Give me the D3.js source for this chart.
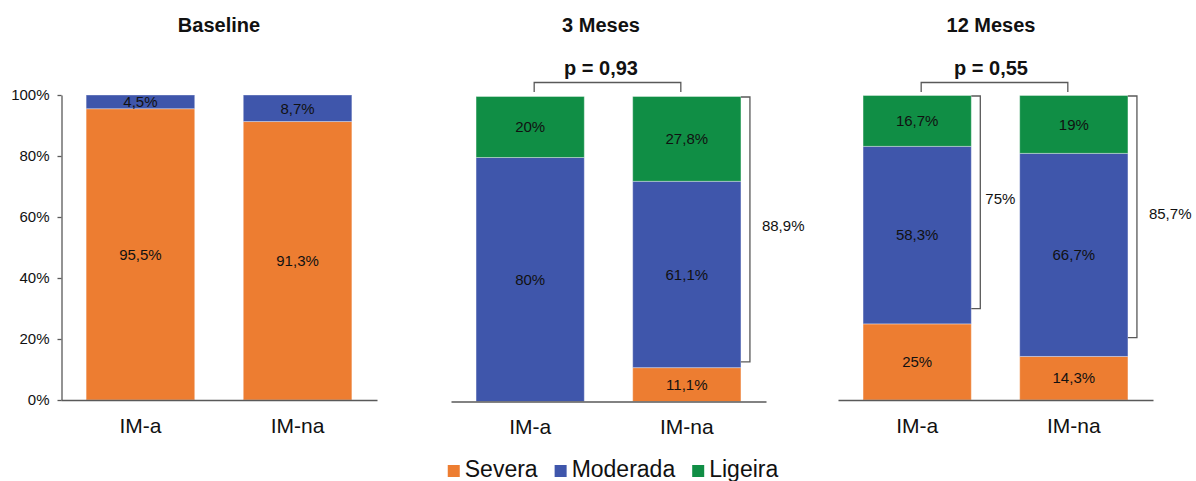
<!DOCTYPE html>
<html>
<head>
<meta charset="utf-8">
<script src="https://cdn.jsdelivr.net/npm/d3@7"></script>
<style>
  html, body { margin: 0; padding: 0; background: #fff; }
  svg { display: block; font-family: "Liberation Sans", Arial, sans-serif; }
</style>
</head>
<body>
<svg id="chart" width="1196" height="481"></svg>
<script>
// Severity distribution per group, at baseline, 3 and 12 months (percent)
const periods = ["Baseline", "3 Meses", "12 Meses"];
const groups = ["IM-a", "IM-na"];
const seriesNames = ["Severa", "Moderada", "Ligeira"];
const severa   = [[95.5, 91.3], [0, 11.1], [25, 14.3]];
const moderada = [[4.5, 8.7],  [80, 61.1], [58.3, 66.7]];
const ligeira  = [[0, 0],      [20, 27.8], [16.7, 19]];
const pValues = [null, "0,93", "0,55"];
// Side brackets grouping Moderada + Ligeira, and the value where each bracket ends
const showBracket = [[false, false], [false, true], [true, true]];
const bracketLow  = [[null, null], [null, 13], [30, 20.5]];
const yTicks = [0, 20, 40, 60, 80, 100];

const colors = { Severa: "#ED7D31", Moderada: "#3F56AB", Ligeira: "#108E45" };
const lineColor = "#595959";

const svg = d3.select("#chart");

// Panel frames
const panelX = [[61, 377], [451, 766], [838, 1153]];
const panelY = [[400, 95], [401.5, 96.5], [400, 95.5]];
const titleX = [219, 601, 991];

const fmt = v => (Math.round(v * 10) / 10).toString().replace(".", ",") + "%";

periods.forEach((period, pi) => {
  const g = svg.append("g");
  const x = d3.scaleBand().domain(groups).range(panelX[pi])
    .paddingInner(0.309).paddingOuter(0.16);
  const y = d3.scaleLinear().domain([0, 100]).range(panelY[pi]);

  const rows = groups.map((grp, gi) => ({
    group: grp, gi,
    Severa: severa[pi][gi], Moderada: moderada[pi][gi], Ligeira: ligeira[pi][gi]
  }));
  const stacked = d3.stack().keys(seriesNames)(rows);

  // bars
  stacked.forEach(layer => {
    g.append("g").attr("fill", colors[layer.key])
      .selectAll("rect").data(layer).join("rect")
      .filter(d => d[1] - d[0] > 0)
      .attr("x", d => x(d.data.group))
      .attr("width", x.bandwidth())
      .attr("y", d => y(d[1]))
      .attr("height", d => y(d[0]) - y(d[1]))
      .attr("stroke", "#fff").attr("stroke-opacity", 0.35).attr("stroke-width", 1);
  });

  // segment value labels
  stacked.forEach(layer => {
    g.append("g").selectAll("text").data(layer.filter(d => d[1] - d[0] > 0)).join("text")
      .attr("x", d => x(d.data.group) + x.bandwidth() / 2)
      .attr("y", d => (y(d[0]) + y(d[1])) / 2)
      .attr("dy", "0.35em")
      .attr("text-anchor", "middle")
      .attr("font-size", 15)
      .attr("fill", "#111")
      .text(d => fmt(d[1] - d[0]));
  });

  // y axis (first panel only)
  if (pi === 0) {
    const ya = g.append("g").attr("transform", `translate(${panelX[pi][0] + 0.5},0)`)
      .call(d3.axisLeft(y).tickValues(yTicks).tickSize(4).tickSizeOuter(0).tickPadding(8)
        .tickFormat(d => d + "%"));
    ya.selectAll("path, line").attr("stroke", lineColor).attr("stroke-width", 1.3);
    ya.selectAll("text").attr("font-size", 15).attr("fill", "#111")
      .attr("font-family", "Liberation Sans, Arial, sans-serif");
  }

  // x axis with group labels
  const xa = g.append("g").attr("transform", `translate(0,${y(0)})`)
    .call(d3.axisBottom(x).tickSize(0).tickSizeOuter(0).tickPadding(18));
  xa.select("path").attr("stroke", lineColor).attr("stroke-width", 1.3);
  xa.selectAll("text").attr("font-size", 21).attr("fill", "#111")
    .attr("font-family", "Liberation Sans, Arial, sans-serif");

  // panel title
  g.append("text").attr("x", titleX[pi]).attr("y", 32)
    .attr("text-anchor", "middle").attr("font-size", 20).attr("font-weight", "bold")
    .attr("fill", "#111").text(period);

  // p-value comparison bracket
  if (pValues[pi]) {
    const xa0 = x(groups[0]) + x.bandwidth() / 2 + 4;
    const xa1 = x(groups[1]) + x.bandwidth() / 2 - 6;
    const top = 82.5, leg = 92;
    g.append("path")
      .attr("d", `M${xa0},${leg}V${top}H${xa1}V${leg}`)
      .attr("fill", "none").attr("stroke", lineColor).attr("stroke-width", 1.3);
    g.append("text").attr("x", titleX[pi]).attr("y", 75)
      .attr("text-anchor", "middle").attr("font-size", 20).attr("font-weight", "bold")
      .attr("fill", "#111").text("p = " + pValues[pi]);
  }

  // side brackets: Moderada + Ligeira
  groups.forEach((grp, gi) => {
    if (!showBracket[pi][gi]) return;
    const right = x(grp) + x.bandwidth();
    const bx = right + 9;
    const y0 = y(100), y1 = y(bracketLow[pi][gi]);
    g.append("path")
      .attr("d", `M${right},${y0 + 0.5}H${bx}V${y1}H${right}`)
      .attr("fill", "none").attr("stroke", lineColor).attr("stroke-width", 1.3);
    g.append("text")
      .attr("x", bx + (gi === 0 ? 5 : 12))
      .attr("y", (y0 + y1) / 2 - 3)
      .attr("dy", "0.35em")
      .attr("font-size", 15).attr("fill", "#111")
      .text(fmt(moderada[pi][gi] + ligeira[pi][gi]));
  });
});

// legend
const legend = svg.append("g");
let lx = 0;
const items = seriesNames.map(name => {
  const it = legend.append("g");
  it.append("rect").attr("x", 0).attr("y", -12).attr("width", 12).attr("height", 12)
    .attr("fill", colors[name]);
  const t = it.append("text").attr("x", 17).attr("y", 0)
    .attr("font-size", 23).attr("fill", "#111").text(name);
  const w = 17 + t.node().getComputedTextLength();
  it.attr("transform", `translate(${lx},0)`);
  lx += w + 17;
  return it;
});
const legendWidth = lx - 17;
legend.attr("transform", `translate(${613 - legendWidth / 2},477)`);
</script>
</body>
</html>
